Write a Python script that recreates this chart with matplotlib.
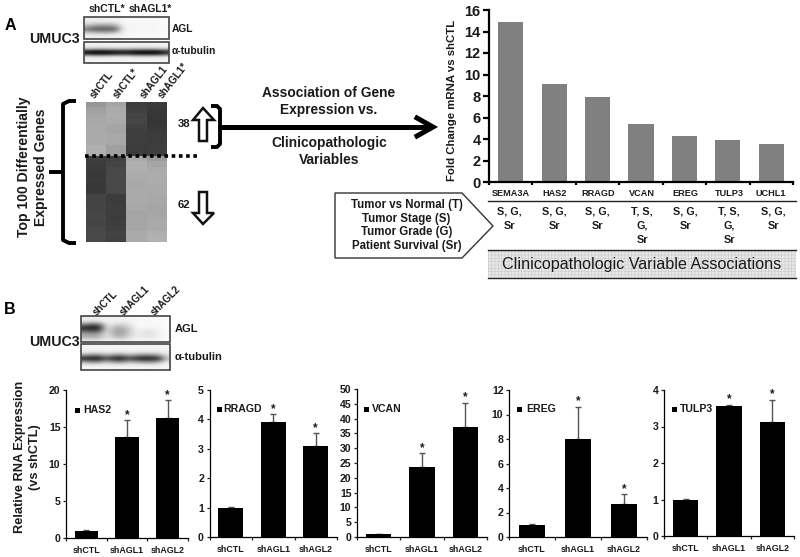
import numpy as np
import matplotlib
matplotlib.use("Agg")
import matplotlib.pyplot as plt
from matplotlib.patches import Polygon, Rectangle

plt.rcParams['font.family'] = ['Liberation Sans', 'DejaVu Sans']
plt.rcParams['font.weight'] = 'bold'
plt.rcParams['hatch.linewidth'] = 0.3

W, H = 800, 557
# ---------- data ----------
genes_a = ['SEMA3A', 'HAS2', 'RRAGD', 'VCAN', 'EREG', 'TULP3', 'UCHL1']
fold_change = [14.9, 9.1, 7.9, 5.4, 4.3, 3.9, 3.5]
assoc = ['S, G,\nSr', 'S, G,\nSr', 'S, G,\nSr', 'T, S,\nG,\nSr', 'S, G,\nSr', 'T, S,\nG,\nSr', 'S, G,\nSr']
conds = ['shCTL', 'shAGL1', 'shAGL2']
has2 = [1.0, 13.6, 16.2]
has2_err = [0.05, 2.3, 2.4]
rragd = [1.0, 3.9, 3.1]
rragd_err = [0.01, 0.28, 0.43]
vcan = [1.0, 23.5, 37.2]
vcan_err = [0.1, 4.8, 8.1]
ereg = [1.0, 8.0, 2.7]
ereg_err = [0.03, 2.65, 0.8]
tulp3 = [1.0, 3.57, 3.13]
tulp3_err = [0.01, 0.03, 0.6]
heat_gray = [
    [150, 165, 62, 58], [160, 170, 65, 56], [165, 172, 68, 54], [168, 170, 70, 54],
    [170, 165, 66, 56], [170, 165, 62, 58], [170, 168, 62, 60], [170, 168, 62, 60],
    [175, 160, 60, 62], [175, 160, 60, 62],
    [62, 66, 170, 155], [60, 68, 175, 165], [58, 72, 175, 170], [56, 74, 172, 172],
    [58, 74, 170, 172], [56, 72, 168, 170], [56, 72, 170, 170], [68, 60, 170, 168],
    [68, 60, 170, 168], [68, 62, 168, 165], [70, 62, 165, 165], [70, 60, 165, 168],
    [68, 62, 165, 170], [72, 64, 165, 170], [74, 67, 170, 175], [72, 64, 170, 178],
]
blot_a_agl = [
    [238, 240, 240, 240, 242, 245, 248, 250, 250, 250, 250, 250],
    [238, 240, 240, 240, 242, 245, 248, 250, 250, 250, 250, 250],
    [215, 200, 195, 195, 205, 245, 248, 246, 248, 246, 248, 250],
    [165, 135, 130, 130, 150, 240, 248, 246, 248, 246, 248, 250],
    [120, 95, 90, 90, 110, 235, 246, 244, 246, 244, 246, 250],
    [190, 170, 165, 165, 180, 242, 248, 248, 248, 248, 248, 250],
    [235, 235, 235, 235, 238, 245, 250, 250, 250, 250, 250, 250],
    [240, 240, 240, 240, 242, 245, 250, 250, 250, 250, 250, 250],
]
blot_a_tub = [
    [245, 245, 245, 245, 245, 245, 245, 245, 245, 245, 245, 245],
    [240, 240, 240, 240, 240, 240, 240, 240, 240, 240, 240, 240],
    [205, 195, 195, 200, 205, 205, 205, 195, 195, 195, 195, 215],
    [20, 10, 10, 15, 25, 30, 25, 12, 10, 10, 12, 40],
    [30, 15, 15, 20, 35, 40, 35, 15, 15, 15, 20, 60],
    [225, 215, 215, 220, 225, 225, 225, 215, 215, 215, 215, 230],
    [245, 245, 245, 245, 245, 245, 245, 245, 245, 245, 245, 245],
    [245, 245, 245, 245, 245, 245, 245, 245, 245, 245, 245, 245],
]
blot_b_agl = [
    [240, 238, 240, 244, 244, 244, 244, 248, 248, 248, 248, 250],
    [235, 230, 235, 242, 240, 240, 242, 248, 248, 248, 248, 250],
    [150, 110, 130, 238, 222, 215, 230, 248, 248, 248, 248, 250],
    [35, 20, 30, 232, 185, 175, 210, 246, 245, 245, 246, 250],
    [90, 70, 85, 230, 165, 155, 200, 240, 230, 230, 240, 250],
    [165, 155, 165, 230, 175, 165, 205, 238, 225, 225, 238, 250],
    [175, 170, 180, 232, 190, 180, 215, 240, 230, 230, 240, 250],
    [235, 232, 235, 242, 238, 238, 240, 246, 246, 246, 248, 250],
]
blot_b_tub = [
    [245, 245, 245, 245, 245, 245, 245, 245, 245, 245, 245, 245],
    [242, 242, 242, 242, 242, 242, 242, 242, 242, 242, 242, 242],
    [240, 235, 235, 240, 235, 235, 240, 238, 235, 235, 238, 242],
    [150, 120, 125, 170, 130, 125, 165, 140, 125, 125, 150, 225],
    [25, 12, 15, 70, 22, 20, 60, 30, 18, 20, 35, 190],
    [170, 140, 150, 195, 150, 145, 185, 165, 145, 145, 170, 230],
    [240, 238, 238, 240, 238, 238, 240, 240, 238, 238, 240, 245],
    [245, 245, 245, 245, 245, 245, 245, 245, 245, 245, 245, 245],
]

fig = plt.figure(figsize=(8, 5.57), dpi=100, facecolor='white')


def px_axes(x0, x1, ytop, ybot, zorder=2):
    a = fig.add_axes([x0 / W, 1 - ybot / H, (x1 - x0) / W, (ybot - ytop) / H], zorder=zorder)
    a.patch.set_alpha(0)
    return a


ov = fig.add_axes([0, 0, 1, 1], zorder=1)
ov.set_xlim(0, W)
ov.set_ylim(H, 0)
ov.axis('off')


def T(x, y, s, size=10, ha='center', va='center', rot=0, weight='bold', color='#1a1a1a', **kw):
    ov.text(x, y, s, fontsize=size, ha=ha, va=va, rotation=rot, weight=weight, color=color,
            rotation_mode='anchor', **kw)


def blot(x0, x1, y0, y1, arr):
    ov.imshow(np.array(arr), cmap='gray', vmin=0, vmax=255, extent=(x0, x1, y1, y0),
              interpolation='bicubic', aspect='auto', zorder=1)
    ov.add_patch(Rectangle((x0, y0), x1 - x0, y1 - y0, fill=False, ec='#444444', lw=1.2, zorder=2))


# ---------- panel labels ----------
T(10, 25, 'A', 11.5, color='black')
T(10, 309, 'B', 11.5, color='black')

# ---------- blots A ----------
blot(84, 169, 17, 39, blot_a_agl)
blot(84, 169, 42, 63, blot_a_tub)
T(106.5, 9.5, 'shCTL*', 7.6)
T(150, 9.5, 'shAGL1*', 7.4)
T(172, 29, 'AGL', 7.4, ha='left')
T(172, 51, 'α-tubulin', 7.4, ha='left')
T(54.5, 39, 'UMUC3', 10.3)
for x, y, s in [(92, 97, 'shCTL'), (115, 97, 'shCTL*'), (142, 97, 'shAGL1'), (160, 97, 'shAGL1*')]:
    T(x, y, s, 7.2, ha='left', rot=52)

# ---------- heatmap ----------
ov.imshow(np.array(heat_gray), cmap='gray', vmin=0, vmax=255, extent=(86, 167, 242, 102),
          interpolation='nearest', aspect='auto', zorder=1)
ov.plot([85, 200], [156, 156], color='black', lw=2.6, ls=(0, (1.0, 1.0)), zorder=3)

# brackets
ov.plot([76, 69, 63, 63, 69, 76], [101, 101, 104, 240, 243, 243], color='black', lw=2.8, solid_capstyle='butt', zorder=3)
ov.plot([49, 63], [172, 172], color='black', lw=2.8, solid_capstyle='butt', zorder=3)
ov.plot([211, 217, 220, 220, 217, 211], [106, 106, 109, 144, 147, 147], color='black', lw=2.8, solid_capstyle='butt', zorder=3)
T(24, 167, 'Top 100 Differentially', 10.1, rot=90)
T(40.5, 167, 'Expressed Genes', 10.1, rot=90)
T(184, 124, '38', 8.2)
T(184, 205, '62', 8.2)

# hollow arrows
ov.add_patch(Polygon([(203, 108), (214, 120), (207, 120), (207, 141), (199, 141), (199, 120), (193, 120)],
                     closed=True, fc='white', ec='#111111', lw=1.8, zorder=3))
ov.add_patch(Polygon([(203, 224), (214, 213), (207, 213), (207, 192), (199, 192), (199, 213), (193, 213)],
                     closed=True, fc='white', ec='#111111', lw=1.8, zorder=3))

# big arrow
ov.plot([220, 432], [127, 127], color='black', lw=3.6, solid_capstyle='butt', zorder=3)
ov.plot([417, 433, 417], [118, 127, 136], color='black', lw=3.6, solid_joinstyle='miter', zorder=3)
T(329, 93, 'Association of Gene', 9.9)
T(329, 110, 'Expression vs.', 9.9)
T(329, 143.5, 'Clinicopathologic', 9.9)
T(329, 160.5, 'Variables', 9.9)

# callout
ov.add_patch(Polygon([(335, 193), (462, 193), (493, 226), (462, 258), (335, 258)],
                     closed=True, fc='white', ec='#333333', lw=1.0, zorder=2))
for y, s in zip([205, 219, 232.5, 246.5],
                ['Tumor vs Normal (T)', 'Tumor Stage (S)', 'Tumor Grade (G)', 'Patient Survival (Sr)']):
    T(406.5, y, s, 8.3, zorder=3)

# ---------- fold change bars ----------
axa = px_axes(489, 793, 10, 182)
xa = np.arange(len(genes_a))
axa.bar(xa, fold_change, width=0.58, color='#808080')
axa.set_xlim(-0.5, 6.5)
axa.set_ylim(0, 16)
axa.set_yticks(range(0, 17, 2))
axa.set_xticks(np.arange(-0.5, 7, 1))
axa.set_xticklabels([])
axa.tick_params(axis='x', length=2.5, width=1.6, direction='out', color='black')
axa.tick_params(axis='y', length=4, width=1.6, labelsize=10.5, pad=2, labelcolor='#1a1a1a')
for s in ['top', 'right']:
    axa.spines[s].set_visible(False)
for s in ['left', 'bottom']:
    axa.spines[s].set_linewidth(1.6)
T(452, 100, 'Fold Change mRNA vs shCTL', 8.2, rot=90)

colx = [509, 554, 597, 642, 685, 729, 773]
labx = [511, 554.7, 598, 641.5, 685, 729, 771]
for x, g in zip(labx, genes_a):
    T(x, 193.5, g, 6.6)
for x, s in zip(colx, assoc):
    for i, line in enumerate(s.split('\n')):
        T(x, 212 + i * 14, line, 7.8)
ov.plot([488, 796], [201, 201], color='#222222', lw=1.0, zorder=3)
ov.plot([488, 796], [250, 250], color='#222222', lw=1.0, zorder=3)
ov.plot([488, 796], [278, 278], color='#222222', lw=1.0, zorder=3)
ov.add_patch(Rectangle((488, 250), 308, 28, fc='#e6e6e6', ec='#c4c4c4', lw=0, hatch='+++++', zorder=1))
T(642, 265, 'Clinicopathologic Variable Associations', 11.6, weight='normal', zorder=4)

# ---------- blots B ----------
blot(81, 170, 316, 342, blot_b_agl)
blot(81, 170, 344, 370, blot_b_tub)
T(175, 329, 'AGL', 8.0, ha='left')
T(175, 357, 'α-tubulin', 8.0, ha='left')
T(54, 342, 'UMUC3', 10.3)
for x, s in [(95, 'shCTL'), (122, 'shAGL1'), (153, 'shAGL2')]:
    T(x, 314, s, 7.0, ha='left', rot=45)

# ---------- small bar charts ----------
panels = [
    ('HAS2', has2, has2_err, 20, 5, (66, 188, 390, 538), (75, 410), 83),
    ('RRAGD', rragd, rragd_err, 5, 1, (209.5, 337, 390, 537), (217, 409), 223),
    ('VCAN', vcan, vcan_err, 50, 5, (357, 487, 389, 537), (364, 409), 372),
    ('EREG', ereg, ereg_err, 12, 2, (509, 647, 390, 537), (517, 409), 526),
    ('TULP3', tulp3, tulp3_err, 4, 1, (664, 794, 390, 536), (672, 409), 680),
]
for name, vals, errs, ymax, step, (x0, x1, yt, yb), (lx, ly), tx in panels:
    a = px_axes(x0, x1, yt, yb)
    xs = np.arange(3)
    a.errorbar(xs, vals, yerr=[[0, 0, 0], errs], fmt='none', ecolor='#555555', elinewidth=1.0,
               capsize=2.2, capthick=1.0, zorder=1)
    a.bar(xs, vals, width=0.58, color='black', zorder=2)
    a.set_xlim(-0.5, 2.5)
    a.set_ylim(0, ymax)
    a.set_yticks(np.arange(0, ymax + step / 2, step))
    a.set_xticks(np.arange(-0.5, 3, 1))
    a.set_xticklabels([])
    a.tick_params(axis='x', length=2, width=0.9, color='#222222')
    a.tick_params(axis='y', length=2.5, width=0.9, labelsize=7.6, pad=1.5, labelcolor='#1a1a1a', color='#222222')
    for s in ['top', 'right']:
        a.spines[s].set_visible(False)
    for s in ['left', 'bottom']:
        a.spines[s].set_linewidth(0.9)
    for i, c in enumerate(conds):
        a.annotate(c, (i, 0), xytext=(0, -9), textcoords='offset points', ha='center', va='center',
                   fontsize=6.4, weight='bold', color='#1a1a1a', annotation_clip=False)
    for i in [1, 2]:
        a.annotate('*', (i, vals[i] + errs[i]), xytext=(0, -0.5), textcoords='offset points', ha='center',
                   va='bottom', fontsize=8.5, weight='bold', color='#1a1a1a', annotation_clip=False)
    ov.add_patch(Rectangle((lx, ly - 2.5), 5, 5, fc='black', ec='none', zorder=3))
    T(tx, ly, name, 7.6, ha='left')

T(20, 457, 'Relative RNA Expression', 9.2, rot=90)
T(35, 457, '(vs shCTL)', 9.2, rot=90)

ov.set_xlim(0, W)
ov.set_ylim(H, 0)
fig.savefig('out.png', dpi=100)
